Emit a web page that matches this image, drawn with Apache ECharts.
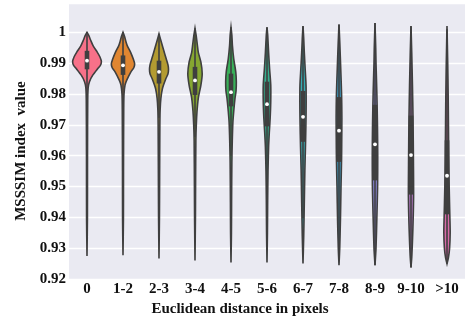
<!DOCTYPE html>
<html>
<head>
<meta charset="utf-8">
<script src="https://cdn.jsdelivr.net/npm/echarts@6/dist/echarts.min.js"></script>
<style>html,body{margin:0;padding:0;background:#fff}#c{width:466px;height:322px}</style>
</head>
<body>
<div id="c"></div>
<script>
const categories = ['0','1-2','2-3','3-4','4-5','5-6','6-7','7-8','8-9','9-10','>10'];
const medians = [0.9908,0.9893,0.9872,0.9844,0.9806,0.9767,0.9726,0.9681,0.9637,0.9602,0.9535];
const q3s     = [0.9940,0.9925,0.9908,0.9888,0.9866,0.9840,0.9810,0.9790,0.9765,0.9730,0.9650];
const q1s     = [0.9880,0.9862,0.9834,0.9797,0.9760,0.9695,0.9645,0.9580,0.9520,0.9474,0.9410];
const mins    = [0.9275,0.9277,0.9267,0.9260,0.9254,0.9254,0.9251,0.9245,0.9245,0.9238,0.9250];
const maxs    = [1.0000,1.0000,0.9995,1.0013,1.0016,1.0016,1.0020,1.0025,1.0030,1.0020,1.0020];
// density profiles: [value, relative density]
const density0 = [[1.0000,0],[0.9990,0.12],[0.9975,0.25],[0.9956,0.43],[0.9935,0.72],[0.9920,0.90],[0.9905,1.0],[0.9892,0.92],[0.9882,0.74],[0.9861,0.40],[0.9840,0.17],[0.9820,0.08],[0.9780,0.05],[0.9600,0.035],[0.9400,0.03],[0.9275,0]];
const density1 = [[1.0000,0],[0.9985,0.12],[0.9970,0.2],[0.9956,0.30],[0.9935,0.53],[0.9910,0.74],[0.9898,0.81],[0.9885,0.75],[0.9872,0.55],[0.9845,0.26],[0.9829,0.14],[0.9800,0.07],[0.9750,0.05],[0.9550,0.035],[0.9400,0.03],[0.9277,0]];
const density2 = [[0.9995,0],[0.9975,0.12],[0.9946,0.30],[0.9914,0.50],[0.9895,0.62],[0.9880,0.66],[0.9865,0.62],[0.9850,0.48],[0.9818,0.24],[0.9786,0.13],[0.9750,0.08],[0.9700,0.06],[0.9500,0.04],[0.9400,0.03],[0.9267,0]];
const density3 = [[1.0013,0],[0.9990,0.08],[0.9960,0.16],[0.9935,0.23],[0.9903,0.41],[0.9866,0.50],[0.9829,0.41],[0.9787,0.23],[0.9744,0.14],[0.9700,0.09],[0.9650,0.06],[0.9500,0.04],[0.9400,0.03],[0.9260,0]];
const density4 = [[1.0016,0],[0.9990,0.06],[0.9956,0.10],[0.9914,0.19],[0.9872,0.33],[0.9840,0.37],[0.9810,0.35],[0.9787,0.28],[0.9744,0.19],[0.9707,0.13],[0.9650,0.09],[0.9580,0.06],[0.9450,0.04],[0.9350,0.03],[0.9254,0]];
const density5 = [[1.0016,0],[0.9990,0.05],[0.9935,0.11],[0.9882,0.18],[0.9829,0.26],[0.9776,0.26],[0.9723,0.22],[0.9675,0.16],[0.9627,0.11],[0.9550,0.07],[0.9450,0.045],[0.9350,0.03],[0.9254,0]];
const density6 = [[1.0020,0],[0.9980,0.05],[0.9935,0.09],[0.9882,0.15],[0.9829,0.21],[0.9776,0.22],[0.9723,0.21],[0.9670,0.19],[0.9627,0.17],[0.9554,0.13],[0.9446,0.09],[0.9340,0.05],[0.9251,0]];
const density7 = [[1.0025,0],[0.9960,0.06],[0.9882,0.12],[0.9797,0.18],[0.9723,0.20],[0.9650,0.19],[0.9595,0.18],[0.9500,0.14],[0.9394,0.10],[0.9300,0.05],[0.9245,0]];
const density8 = [[1.0030,0],[0.9950,0.05],[0.9900,0.07],[0.9800,0.13],[0.9700,0.17],[0.9600,0.19],[0.9500,0.18],[0.9400,0.13],[0.9300,0.07],[0.9245,0]];
const density9 = [[1.0020,0],[0.9935,0.05],[0.9829,0.10],[0.9723,0.14],[0.9573,0.17],[0.9468,0.18],[0.9362,0.13],[0.9277,0.06],[0.9238,0]];
const density10 = [[1.0020,0],[0.9900,0.05],[0.9800,0.08],[0.9700,0.10],[0.9600,0.12],[0.9500,0.15],[0.9400,0.20],[0.9350,0.22],[0.9300,0.18],[0.9270,0.10],[0.9250,0]];
const densities = [density0,density1,density2,density3,density4,density5,density6,density7,density8,density9,density10];
const colors = ['#f77189','#e08631','#b39b31','#86a731','#38b159','#35af8f','#37acb3','#3a9dc6','#8a86d8','#b478c6','#d86aa8'];

const INK = '#3f3f3f';
const FONT = 'Liberation Serif';
const chart = echarts.init(document.getElementById('c'), null, {renderer: 'canvas'});

function renderItem(params, api) {
  const i = params.dataIndex;
  const band = api.size([1, 0])[0];
  const halfMax = band * 0.4;
  const cx = api.coord([i, medians[i]])[0];
  const prof = densities[i];
  const right = prof.map(p => [cx + p[1] * halfMax, api.coord([i, p[0]])[1]]);
  const left = prof.slice().reverse().map(p => [cx - p[1] * halfMax, api.coord([i, p[0]])[1]]);
  const iqr = q3s[i] - q1s[i];
  const wLo = Math.max(mins[i], q1s[i] - 1.5 * iqr);
  const wHi = Math.min(maxs[i], q3s[i] + 1.5 * iqr);
  const y = v => api.coord([i, v])[1];
  return {
    type: 'group',
    children: [
      {type: 'polygon', shape: {points: right.concat(left), smooth: 0.25},
       style: {fill: colors[i], stroke: INK, lineWidth: 1.6}},
      {type: 'line', shape: {x1: cx, y1: y(wLo), x2: cx, y2: y(wHi)},
       style: {stroke: INK, lineWidth: 1.6}},
      {type: 'line', shape: {x1: cx, y1: y(q1s[i]), x2: cx, y2: y(q3s[i])},
       style: {stroke: INK, lineWidth: 4.6}},
      {type: 'circle', shape: {cx: cx, cy: y(medians[i]), r: 1.9},
       style: {fill: '#ffffff'}}
    ]
  };
}

chart.setOption({
  animation: false,
  grid: {left: 69, right: 1, top: 3, bottom: 38, show: true, backgroundColor: '#eaeaf2', borderWidth: 0},
  xAxis: {
    type: 'category', data: categories, boundaryGap: true,
    axisLine: {show: false}, axisTick: {show: false},
    splitLine: {show: false},
    axisLabel: {fontFamily: FONT, fontWeight: 'bold', fontSize: 15, color: '#111', margin: 3},
    name: 'Euclidean distance in pixels', nameLocation: 'middle', nameGap: 20,
    nameTextStyle: {fontFamily: FONT, fontWeight: 'bold', fontSize: 15, color: '#111', padding: [0, 54, 0, 0]}
  },
  yAxis: {
    type: 'value', min: 0.92, max: 1.0095, interval: 0.01,
    axisLine: {show: false}, axisTick: {show: false},
    splitLine: {show: true, lineStyle: {color: '#ffffff', width: 1.3}},
    axisLabel: {fontFamily: FONT, fontWeight: 'bold', fontSize: 15, color: '#111', margin: 3,
      showMaxLabel: false,
      formatter: v => Math.abs(v - 1) < 1e-9 ? '1' : v.toFixed(2)},
    name: 'MSSSIM index  value', nameLocation: 'middle', nameGap: 38,
    nameTextStyle: {fontFamily: FONT, fontWeight: 'bold', fontSize: 15, color: '#111', padding: [0, 20, 0, 0]}
  },
  series: [{
    type: 'custom',
    renderItem: renderItem,
    encode: {x: 0, y: 1},
    data: categories.map((c, i) => [i, medians[i]]),
    z: 5
  }]
});
</script>
</body>
</html>
